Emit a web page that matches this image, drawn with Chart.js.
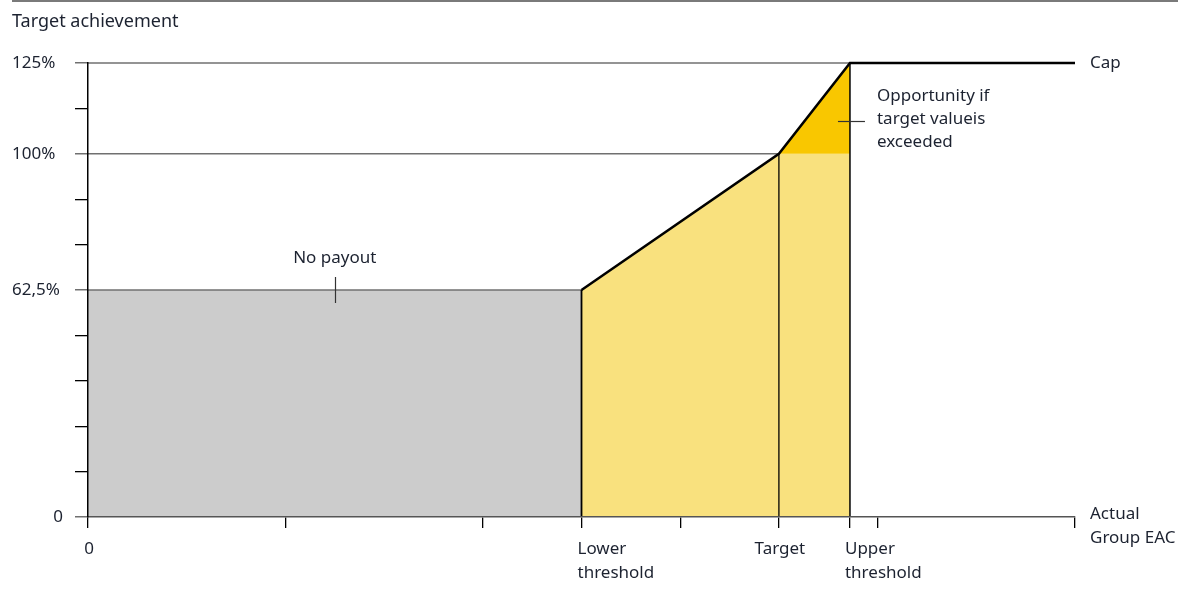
<!DOCTYPE html>
<html>
<head>
<meta charset="utf-8">
<script src="https://cdn.jsdelivr.net/npm/chart.js@4"></script>
<style>
  html, body { margin: 0; padding: 0; background: #fff; }
  #wrap { position: relative; width: 1178px; height: 590px; }
  #topline { position: absolute; left: 12px; right: 0; top: 0; height: 0; border-top: 2px solid #7a7a7a; }
</style>
</head>
<body>
<div id="wrap">
  <div id="topline"></div>
  <canvas id="chart" width="1178" height="590"></canvas>
</div>
<script>
// x in "EAC units": axis ticks 0..5, thresholds in between
const X_TICKS = [0, 1, 2, 2.5, 3, 3.5, 3.86, 4, 5]
const LOWER = 2.5, TARGET = 3.5, UPPER = 3.86, X_END = 5
const Y_LEVELS = [0, 62.5, 100, 125]
const Y_LABELS = {0: "0", 62.5: "62,5%", 100: "100%", 125: "125%"}

const NO_PAYOUT = [{x: 0, y: 62.5}, {x: LOWER, y: 62.5}]
const PAYOUT = [{x: LOWER, y: 62.5}, {x: TARGET, y: 100}, {x: UPPER, y: 100}]
const OPPORTUNITY = [{x: TARGET, y: 100}, {x: UPPER, y: 125}]
const CURVE = [{x: LOWER, y: 62.5}, {x: TARGET, y: 100}, {x: UPPER, y: 125}, {x: X_END, y: 125}]
const GRID_100 = [{x: 0, y: 100}, {x: TARGET, y: 100}]
const GRID_125 = [{x: 0, y: 125}, {x: UPPER, y: 125}]

const X_LABELS = [
  {x: 0, lines: ["0"], align: "center", dx: 1},
  {x: LOWER, lines: ["Lower", "threshold"], align: "left", dx: -4},
  {x: TARGET, lines: ["Target"], align: "center", dx: 1},
  {x: UPPER, lines: ["Upper", "threshold"], align: "left", dx: -5}
]

const FONT = '"Noto Sans", sans-serif'
const TEXT = "#1c2230"
const GRAY_LINE = "#707070"

const vline = (x, top) => [{x: x, y: 0}, {x: x, y: top}]

const textPlugin = {
  id: "texts",
  afterDraw(chart) {
    const ctx = chart.ctx
    const xs = chart.scales.x, ys = chart.scales.y
    ctx.save()
    ctx.fillStyle = TEXT
    ctx.textBaseline = "middle"
    ctx.font = "18px " + FONT
    ctx.textAlign = "left"
    ctx.fillText("Target achievement", 12, 22)

    ctx.font = "17px " + FONT
    // y labels: percentages start at the left edge, "0" sits by the axis
    Y_LEVELS.forEach(v => {
      const y = ys.getPixelForValue(v)
      if (v === 0) {
        ctx.textAlign = "right"
        ctx.fillText(Y_LABELS[v], 63, y)
      } else {
        ctx.textAlign = "left"
        ctx.fillText(Y_LABELS[v], 12, y)
      }
    })

    X_LABELS.forEach(l => {
      ctx.textAlign = l.align
      l.lines.forEach((t, i) => ctx.fillText(t, xs.getPixelForValue(l.x) + l.dx, ys.bottom + 32 + i * 24))
    })

    const right = xs.getPixelForValue(X_END) + 15
    ctx.textAlign = "left"
    ctx.fillText("Cap", right, ys.getPixelForValue(125))
    ctx.fillText("Actual", right, ys.bottom - 3)
    ctx.fillText("Group EAC", right, ys.bottom + 21)

    // No payout
    const npx = xs.getPixelForValue(LOWER / 2)
    const npy = ys.getPixelForValue(62.5)
    ctx.textAlign = "center"
    ctx.fillText("No payout", npx, npy - 32)
    ctx.strokeStyle = "#333"
    ctx.lineWidth = 1.2
    ctx.beginPath()
    ctx.moveTo(Math.round(npx) + 0.5, npy - 13)
    ctx.lineTo(Math.round(npx) + 0.5, npy + 13)
    ctx.stroke()

    // Opportunity
    const ox = xs.getPixelForValue(UPPER)
    const oy = Math.round(ys.getPixelForValue(109)) + 0.5
    ctx.beginPath()
    ctx.moveTo(ox - 12, oy)
    ctx.lineTo(ox + 15, oy)
    ctx.stroke()
    ctx.textAlign = "left"
    ;["Opportunity if", "target valueis", "exceeded"].forEach((t, i) => ctx.fillText(t, ox + 27, oy - 25 + i * 23))
    ctx.restore()
  }
}

const ctx = document.getElementById("chart").getContext("2d")
new Chart(ctx, {
  type: "line",
  data: {
    // lower order is drawn on top
    datasets: [
      {data: CURVE, borderColor: "#000", borderWidth: 2.5, order: 0},
      {data: vline(LOWER, 62.5), borderColor: "#000", borderWidth: 1.8, order: 1},
      {data: vline(TARGET, 100), borderColor: "#000", borderWidth: 1.3, order: 1},
      {data: vline(UPPER, 125), borderColor: "#000", borderWidth: 1.5, order: 1},
      {data: GRID_100, borderColor: GRAY_LINE, borderWidth: 1.5, order: 2},
      {data: GRID_125, borderColor: GRAY_LINE, borderWidth: 1.5, order: 2},
      {data: NO_PAYOUT, fill: "origin", backgroundColor: "#cccccc", borderColor: GRAY_LINE, borderWidth: 1.5, order: 3},
      {data: OPPORTUNITY, fill: {value: 100}, backgroundColor: "#f9c700", borderWidth: 0, order: 4},
      {data: PAYOUT, fill: "origin", backgroundColor: "#f9e17e", borderWidth: 0, order: 5}
    ]
  },
  options: {
    responsive: false,
    animation: false,
    events: [],
    layout: {padding: {top: 63, right: 103, left: 0, bottom: 0}},
    elements: {point: {radius: 0}, line: {tension: 0, borderJoinStyle: "miter"}},
    datasets: {line: {clip: false}},
    plugins: {legend: {display: false}, tooltip: {enabled: false}},
    scales: {
      x: {
        type: "linear",
        min: 0,
        max: X_END,
        afterBuildTicks: s => { s.ticks = X_TICKS.map(v => ({value: v})) },
        afterFit: s => { s.height = 73 },
        ticks: {display: false},
        grid: {drawOnChartArea: false, tickLength: 11, color: "#000", lineWidth: 1.3},
        border: {color: "#555", width: 1.5, z: 1}
      },
      y: {
        min: 0,
        max: 125,
        afterBuildTicks: s => {
          const t = []
          for (let v = 0; v <= 125; v += 12.5) t.push({value: v})
          s.ticks = t
        },
        afterFit: s => { s.width = 88 },
        ticks: {display: false},
        grid: {
          drawOnChartArea: false,
          tickLength: 13,
          color: c => (c.tick && Y_LEVELS.includes(c.tick.value)) ? GRAY_LINE : "#000",
          lineWidth: c => (c.tick && Y_LEVELS.includes(c.tick.value)) ? 1.5 : 1.3
        },
        border: {color: "#000", width: 1.5, z: 1}
      }
    }
  },
  plugins: [textPlugin]
})
</script>
</body>
</html>
